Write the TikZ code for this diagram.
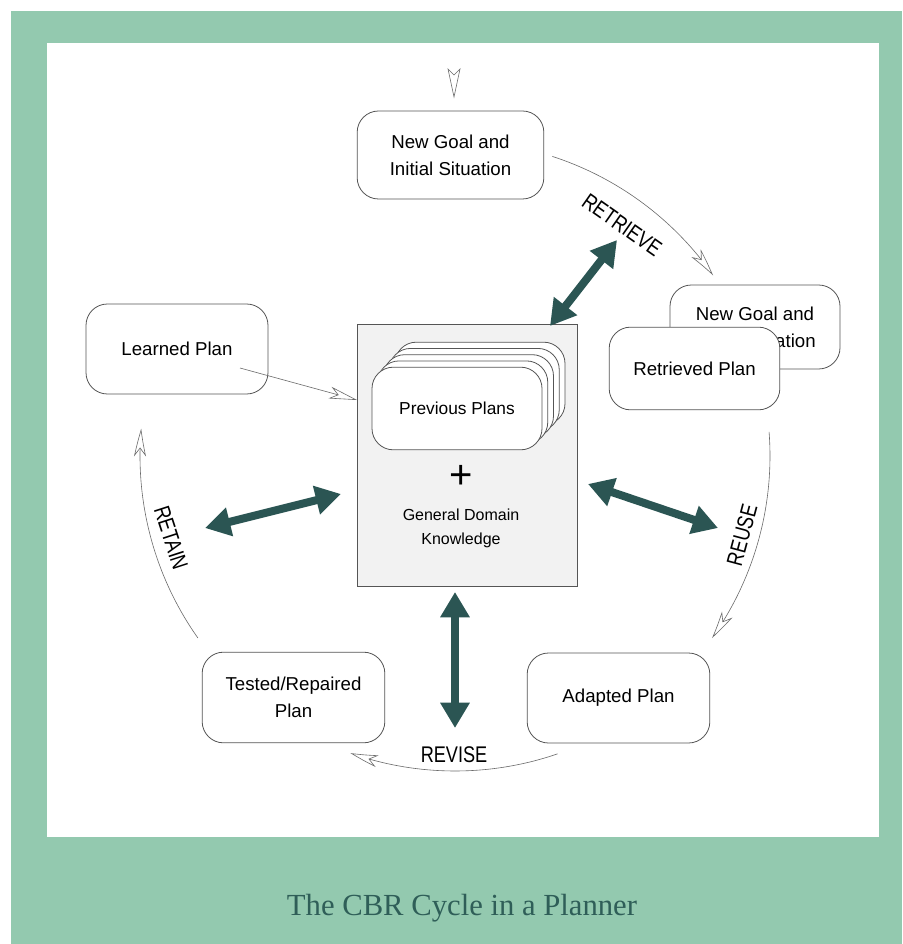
\documentclass[tikz,border=0pt]{standalone}
\usepackage{fontspec}
\setmainfont{Liberation Sans}
\newfontfamily\captionfont{Liberation Serif}
\usetikzlibrary{arrows.meta,bending,calc}
\definecolor{framegreen}{HTML}{93C9AF}
\definecolor{deepteal}{HTML}{2B5553}
\definecolor{captiontext}{HTML}{2F5E58}
\definecolor{panelgray}{HTML}{F2F2F2}
\definecolor{boxline}{HTML}{555555}
\definecolor{arcline}{HTML}{6A6A6A}

\begin{document}
\begin{tikzpicture}[x=0.75pt,y=-0.75pt,
  box/.style={draw=boxline, line width=0.6pt, rounded corners=16pt, fill=white,
    align=center, font=\fontsize{14}{20}\selectfont, inner sep=0pt},
  card/.style={box, minimum width=127.5pt, minimum height=62pt,
    font=\fontsize{13}{18}\selectfont},
  cycle/.style={draw=arcline, line width=0.45pt,
    -{Stealth[open,length=21pt,width=9pt,inset=6pt,bend]}},
  feed/.style={draw=arcline, line width=0.45pt,
    -{Stealth[open,length=21pt,width=9pt,inset=6pt]}},
  link/.style={draw=deepteal, line width=6pt,
    {Triangle[length=19pt,width=21pt]}-{Triangle[length=19pt,width=21pt]}},
  phase/.style={font=\fontsize{17}{17}\selectfont, inner sep=0pt}
]
% page, frame and white panel
\useasboundingbox (0,0) rectangle (902,944);
\fill[white] (0,0) rectangle (902,944);
\fill[framegreen] (11,11) rectangle (902,944);
\fill[white] (47,43) rectangle (879,837);

% centre of the cycle
\coordinate (C) at (455,456);

% incoming problem marker
\draw[arcline, line width=0.45pt, fill=white, line join=miter]
  (448,69) -- (454,97) -- (460,69) -- (454,75) -- cycle;

% cycle boxes
\node[box, minimum width=140pt, minimum height=66pt] (goal) at (450.5,155)
  {New Goal and\\Initial Situation};
\node[box, minimum width=136.5pt, minimum height=67.5pt] (learned) at (177,349)
  {Learned Plan};
\node[box, minimum width=127.5pt, minimum height=63pt] (goalcopy) at (755,327)
  {New Goal and\\Initial Situation};
\node[box, minimum width=128pt, minimum height=62pt] (retrieved) at (694.5,368.5)
  {Retrieved Plan};
\node[box, minimum width=137pt, minimum height=68pt] (tested) at (293.5,697.5)
  {Tested/Repaired\\Plan};
\node[box, minimum width=137pt, minimum height=67.5pt] (adapted) at (618.5,698)
  {Adapted Plan};

% case base panel
\node[draw=boxline, line width=0.6pt, fill=panelgray, minimum width=165pt,
  minimum height=197pt, inner sep=0pt] (base) at (467,455.5) {};
\foreach \k in {4,3,2,1}
  \node[card] (card\k) at ($(457,408.5)+(5.75*\k,-6.25*\k)$) {};
\node[card] (plans) at (457,408.5) {Previous Plans};
\node[font=\fontsize{30}{30}\selectfont, inner sep=0pt] (plus) at (461,477) {+};
\node[align=center, font=\fontsize{12}{18}\selectfont, inner sep=0pt] (domain)
  at (461,528) {General Domain\\Knowledge};

% cycle arcs
\draw[cycle] (C) ++(-72:315) arc[start angle=-72, end angle=-35, radius=315];
\draw[cycle] (C) ++(-4.4:315) arc[start angle=-4.4, end angle=35.3, radius=315];
\draw[cycle] (C) ++(71:315) arc[start angle=71, end angle=109.4, radius=315];
\draw[cycle] (C) ++(144.7:315) arc[start angle=144.7, end angle=185, radius=315];

% learned plan back into the case base
\coordinate (learnout) at (240,368);
\coordinate (basein) at (357,400);
\draw[feed] (learnout) -- (basein);

% exchanges with the case base
\coordinate (r1) at (550,326);  \coordinate (r2) at (617,240);
\coordinate (l1) at (205,528);  \coordinate (l2) at (341,494);
\coordinate (u1) at (588,484);  \coordinate (u2) at (718,528);
\coordinate (v1) at (455,592);  \coordinate (v2) at (455,728);
\draw[link] (r1) -- (r2);
\draw[link] (l1) -- (l2);
\draw[link] (u1) -- (u2);
\draw[link] (v1) -- (v2);

% phase names
\node[phase, rotate=-35] (retrieve) at (622,225) {\scalebox{0.8}[1]{RETRIEVE}};
\node[phase, rotate=75] (reuse) at (742,535) {\scalebox{0.8}[1]{REUSE}};
\node[phase] (revise) at (454,755) {\scalebox{0.8}[1]{REVISE}};
\node[phase, rotate=-72] (retain) at (171,538) {\scalebox{0.8}[1]{RETAIN}};

% caption
\node[anchor=base, text=captiontext, inner sep=0pt] (caption) at (462,915)
  {\captionfont\fontsize{23}{23}\selectfont The CBR Cycle in a Planner};
\end{tikzpicture}
\end{document}
